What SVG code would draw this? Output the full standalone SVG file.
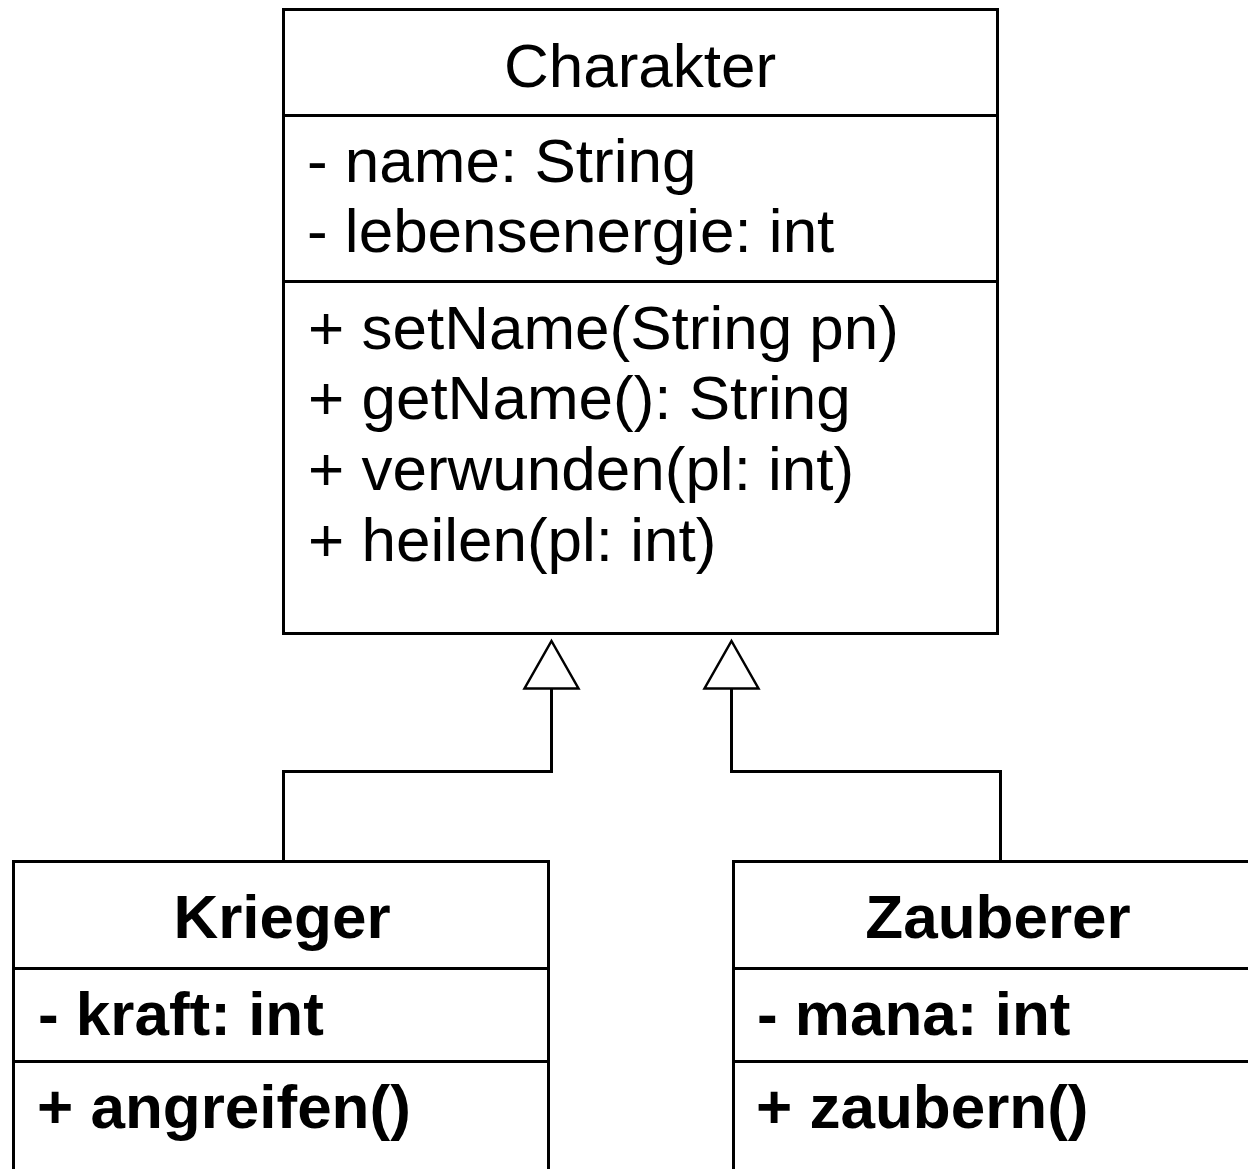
<svg xmlns="http://www.w3.org/2000/svg" width="1248" height="1169" viewBox="0 0 1248 1169">
  <style>
    .box { fill: #ffffff; stroke: #000000; stroke-width: 3; }
    .sep { stroke: #000000; stroke-width: 3; }
    .edge { fill: none; stroke: #000000; stroke-width: 3; }
    .head { fill: #ffffff; stroke: #000000; stroke-width: 2.5; stroke-linejoin: miter; }
    text { font-family: "Liberation Sans", Arial, sans-serif; font-size: 62px; fill: #000000; }
    .title { text-anchor: middle; }
    .bold { font-weight: bold; }
  </style>
  <rect width="1248" height="1169" fill="#ffffff"/>

  <!-- generalization connectors -->
  <g id="connectors">
    <polyline class="edge" points="283.5,861.5 283.5,771.5 551.5,771.5 551.5,688.5"/>
    <polygon class="head" points="551.5,641 578.5,688.5 524.5,688.5"/>
    <polyline class="edge" points="1000.5,861.5 1000.5,771.5 731.5,771.5 731.5,688.5"/>
    <polygon class="head" points="731.5,641 758.5,688.5 704.5,688.5"/>
  </g>

  <!-- base class -->
  <g id="charakter">
    <rect class="box" x="283.5" y="9.5" width="714" height="624"/>
    <line class="sep" x1="283.5" y1="115.5" x2="997.5" y2="115.5"/>
    <line class="sep" x1="283.5" y1="281.5" x2="997.5" y2="281.5"/>
    <text class="title" x="640" y="87">Charakter</text>
    <text x="307" y="182">- name: String</text>
    <text x="307" y="252">- lebensenergie: int</text>
    <text x="308" y="349">+ setName(String pn)</text>
    <text x="308" y="419">+ getName(): String</text>
    <text x="308" y="490">+ verwunden(pl: int)</text>
    <text x="308" y="561">+ heilen(pl: int)</text>
  </g>

  <!-- subclass Krieger -->
  <g id="krieger">
    <rect class="box" x="13.5" y="861.5" width="535" height="330"/>
    <line class="sep" x1="13.5" y1="968.5" x2="548.5" y2="968.5"/>
    <line class="sep" x1="13.5" y1="1061.5" x2="548.5" y2="1061.5"/>
    <text class="title bold" x="282" y="938">Krieger</text>
    <text class="bold" x="38" y="1035">- kraft: int</text>
    <text class="bold" x="37" y="1128">+ angreifen()</text>
  </g>

  <!-- subclass Zauberer -->
  <g id="zauberer">
    <rect class="box" x="733.5" y="861.5" width="535" height="330"/>
    <line class="sep" x1="733.5" y1="968.5" x2="1268.5" y2="968.5"/>
    <line class="sep" x1="733.5" y1="1061.5" x2="1268.5" y2="1061.5"/>
    <text class="title bold" x="998" y="938">Zauberer</text>
    <text class="bold" x="757" y="1035">- mana: int</text>
    <text class="bold" x="756" y="1128">+ zaubern()</text>
  </g>
</svg>
